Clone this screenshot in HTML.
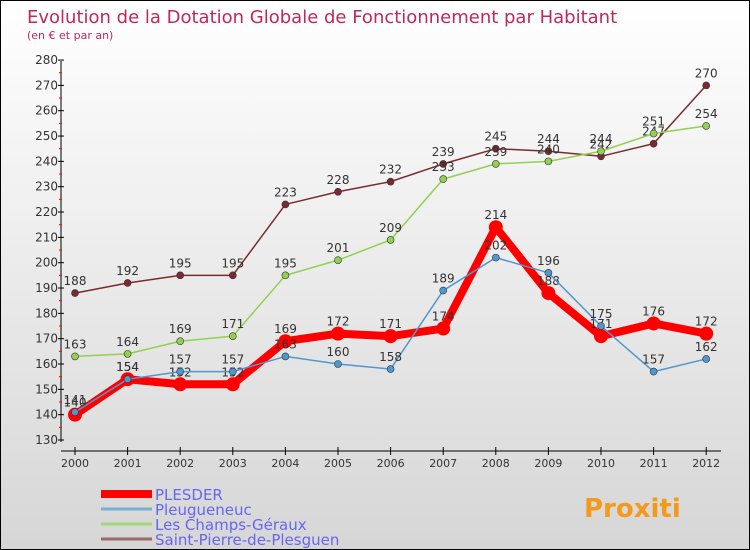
<!DOCTYPE html>
<html><head><meta charset="utf-8"><style>
body{margin:0}
#c{width:748px;height:548px;border:1px solid #000;background:linear-gradient(#fff,#d6d6d6);position:relative;overflow:hidden;font-family:"DejaVu Sans","Liberation Sans",sans-serif}
</style></head><body>
<div id="c">
<svg id="s" width="748" height="548"></svg>
</div>
<script>
const years=["2000","2001","2002","2003","2004","2005","2006","2007","2008","2009","2010","2011","2012"];
const plesder=[140,154,152,152,169,172,171,174,214,188,171,176,172];
const pleugueneuc=[141,154,157,157,163,160,158,189,202,196,175,157,162];
const champs=[163,164,169,171,195,201,209,233,239,240,244,251,254];
const stpierre=[188,192,195,195,223,228,232,239,245,244,242,247,270];
const yTicks=[130,140,150,160,170,180,190,200,210,220,230,240,250,260,270,280];
const svg=document.getElementById('s');const NS="http://www.w3.org/2000/svg";
function X(i){return 74+i*52.6;}
function Y(v){return 439-(v-130)*2.533;}
function mk(t,a,p){const e=document.createElementNS(NS,t);for(const k in a)e.setAttribute(k,a[k]);(p||svg).appendChild(e);return e;}
let t=mk('text',{x:26,y:22,fill:'#c0285a','font-size':18});t.textContent='Evolution de la Dotation Globale de Fonctionnement par Habitant';

t=mk('text',{x:26,y:38,fill:'#c0285a','font-size':11});t.textContent='(en € et par an)';

let ax=mk('g',{});
mk('line',{x1:60,y1:60,x2:60,y2:441,stroke:'#000'},ax);
yTicks.forEach((v,i)=>{mk('line',{x1:57,y1:Y(v),x2:63,y2:Y(v),stroke:'#000'},ax);
if(i<yTicks.length-1)mk('line',{x1:58,y1:Y(v+5),x2:61,y2:Y(v+5),stroke:'#f00'},ax);
const l=mk('text',{x:57,y:Y(v)+4,'text-anchor':'end','font-size':12,fill:'#333'},ax);l.textContent=v;});
let xa=mk('g',{});
mk('line',{x1:60,y1:450,x2:720,y2:450,stroke:'#000'},xa);
years.forEach((y,i)=>{mk('line',{x1:X(i),y1:446,x2:X(i),y2:454,stroke:'#000'},xa);
const l=mk('text',{x:X(i),y:466,'text-anchor':'middle','font-size':11,fill:'#333'},xa);l.textContent=y;});
function series(d,col,w,r,name,dy){const g=mk('g',{});
mk('polyline',{points:d.map((v,i)=>X(i)+','+Y(v)).join(' '),fill:'none',stroke:col,'stroke-width':w,'stroke-linejoin':'round'},g);
d.forEach((v,i)=>{const c=mk('circle',{cx:X(i),cy:Y(v),r:r,fill:col,stroke:w>3?col:'#333','stroke-width':w>3?0:0.6},g);

const l=mk('text',{x:X(i),y:Y(v)-8,'text-anchor':'middle','font-size':12,fill:'#333'},g);l.textContent=v;});}
series(stpierre,'#7a2a30',1.5,3.5,'saint-pierre-series');
series(champs,'#92d050',1.5,3.5,'champs-series');
series(plesder,'#f00',8,7,'plesder-series');
series(pleugueneuc,'#4f98cf',1.5,3.5,'pleugueneuc-series');
const leg=[['PLESDER','#f00',8],['Pleugueneuc','#7ab0d4',3],['Les Champs-Géraux','#a0d878',3],['Saint-Pierre-de-Plesguen','#9a6a6a',3]];
leg.forEach((e,i)=>{const g=mk('g',{});
const y=493+i*15;mk('line',{x1:100,y1:y,x2:151,y2:y,stroke:e[1],'stroke-width':e[2]},g);
const l=mk('text',{x:154,y:y+6,'font-size':15,fill:'#6666ee'},g);l.textContent=e[0];});
const p=mk('text',{x:583,y:516,'font-size':26,'font-weight':'bold',fill:'#f39a1c'});p.textContent='Proxiti';

</script>
</body></html>
